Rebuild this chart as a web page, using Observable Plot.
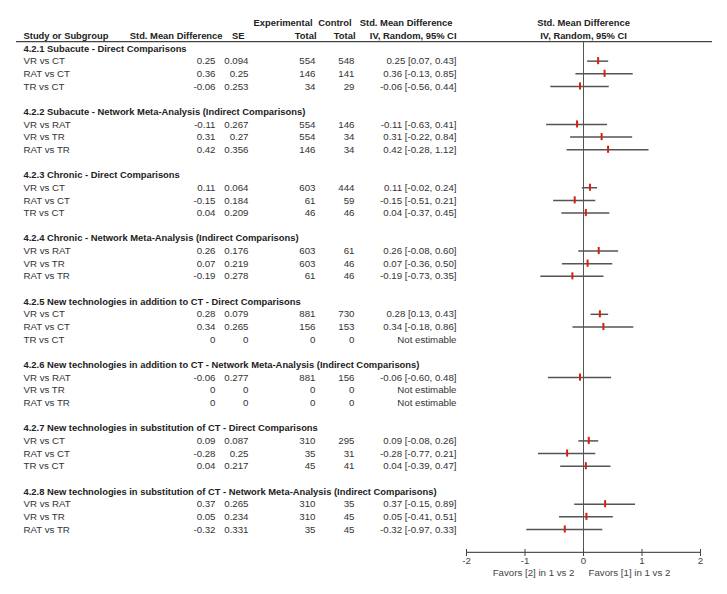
<!DOCTYPE html>
<html><head><meta charset="utf-8">
<script src="https://cdn.jsdelivr.net/npm/d3@7"></script>
<script src="https://cdn.jsdelivr.net/npm/@observablehq/plot@0.6"></script>
<style>body{margin:0;background:#fff}</style>
</head><body><div id="chart"></div>
<script>
const groups = [
  "4.2.1 Subacute - Direct Comparisons",
  "4.2.2 Subacute - Network Meta-Analysis (Indirect Comparisons)",
  "4.2.3 Chronic - Direct Comparisons",
  "4.2.4 Chronic - Network Meta-Analysis (Indirect Comparisons)",
  "4.2.5 New technologies in addition to CT - Direct Comparisons",
  "4.2.6 New technologies in addition to CT - Network Meta-Analysis (Indirect Comparisons)",
  "4.2.7 New technologies in substitution of CT - Direct Comparisons",
  "4.2.8 New technologies in substitution of CT - Network Meta-Analysis (Indirect Comparisons)"
];
const comparisons = [
  "VR vs CT","RAT vs CT","TR vs CT",
  "VR vs RAT","VR vs TR","RAT vs TR",
  "VR vs CT","RAT vs CT","TR vs CT",
  "VR vs RAT","VR vs TR","RAT vs TR",
  "VR vs CT","RAT vs CT","TR vs CT",
  "VR vs RAT","VR vs TR","RAT vs TR",
  "VR vs CT","RAT vs CT","TR vs CT",
  "VR vs RAT","VR vs TR","RAT vs TR"
];
const smd = [0.25,0.36,-0.06, -0.11,0.31,0.42, 0.11,-0.15,0.04, 0.26,0.07,-0.19, 0.28,0.34,0, -0.06,0,0, 0.09,-0.28,0.04, 0.37,0.05,-0.32];
const se = [0.094,0.25,0.253, 0.267,0.27,0.356, 0.064,0.184,0.209, 0.176,0.219,0.278, 0.079,0.265,0, 0.277,0,0, 0.087,0.25,0.217, 0.265,0.234,0.331];
const expTotal = [554,146,34, 554,554,146, 603,61,46, 603,603,61, 881,156,0, 881,0,0, 310,35,45, 310,310,35];
const ctrlTotal = [548,141,29, 146,34,34, 444,59,46, 61,46,46, 730,153,0, 156,0,0, 295,31,41, 35,45,45];
const ciLow = [0.07,-0.13,-0.56, -0.63,-0.22,-0.28, -0.02,-0.51,-0.37, -0.08,-0.36,-0.73, 0.13,-0.18,null, -0.60,null,null, -0.08,-0.77,-0.39, -0.15,-0.41,-0.97];
const ciHigh = [0.43,0.85,0.44, 0.41,0.84,1.12, 0.24,0.21,0.45, 0.60,0.50,0.35, 0.43,0.86,null, 0.48,null,null, 0.26,0.21,0.47, 0.89,0.51,0.33];
const xTicks = [-2,-1,0,1,2];
const favorsLeft = "Favors [2] in 1 vs 2";
const favorsRight = "Favors [1] in 1 vs 2";

// layout rows (row index units)
const rowsPerGroup = 5;
const headRow1 = -2, headRow2 = -1, headLine = -0.55;
const axisRow = 39.8, favorsRow = 41.4;

const groupRows = groups.map((g, i) => ({label: g, row: i * rowsPerGroup}));
const studyRows = comparisons.map((c, k) => {
  const gi = Math.floor(k / 3), j = k % 3;
  const est = se[k] !== 0;
  return {
    label: c, row: gi * rowsPerGroup + 1 + j,
    smd: smd[k], se: se[k], exp: expTotal[k], ctrl: ctrlTotal[k],
    lo: ciLow[k], hi: ciHigh[k], est,
    ci: est ? `${smd[k].toFixed(2)} [${ciLow[k].toFixed(2)}, ${ciHigh[k].toFixed(2)}]` : "Not estimable"
  };
});
const estRows = studyRows.filter(d => d.est);

const txt = "#333", bold = "#222", fs = 9.7, fsb = 9.4;
const T = (data, o) => Plot.text(data, {frameAnchor: "left", fontSize: fs, fill: txt, ...o});
const B = (data, o) => Plot.text(data, {frameAnchor: "left", fontSize: fsb, fill: bold, fontWeight: "bold", ...o});

const chart = Plot.plot({
  width: 727, height: 594,
  marginLeft: 16, marginRight: 15, marginTop: 0, marginBottom: 42,
  style: {fontFamily: "'Liberation Sans', Arial, sans-serif", fontSize: "10px", background: "#fff"},
  x: {domain: [-2, 2], range: [466, 700]},
  y: {domain: [0, 38], range: [48, 529], axis: null},
  marks: [
    // header
    B(["Experimental"], {y: () => headRow1, dx: 296, textAnchor: "end"}),
    B(["Control"], {y: () => headRow1, dx: 335, textAnchor: "end"}),
    B(["Std. Mean Difference"], {y: () => headRow1, dx: 436, textAnchor: "end"}),
    B(["Study or Subgroup"], {y: () => headRow2, dx: 7, textAnchor: "start"}),
    B(["Std. Mean Difference"], {y: () => headRow2, dx: 206, textAnchor: "end"}),
    B(["SE"], {y: () => headRow2, dx: 228, textAnchor: "end"}),
    B(["Total"], {y: () => headRow2, dx: 300, textAnchor: "end"}),
    B(["Total"], {y: () => headRow2, dx: 339, textAnchor: "end"}),
    B(["IV, Random, 95% CI"], {y: () => headRow2, dx: 440, textAnchor: "end"}),
    Plot.text(["Std. Mean Difference"], {x: () => 0, y: () => headRow1, fontSize: fsb, fontWeight: "bold", fill: bold}),
    Plot.text(["IV, Random, 95% CI"], {x: () => 0, y: () => headRow2, fontSize: fsb, fontWeight: "bold", fill: bold}),
    Plot.ruleY([headLine], {stroke: "#444", strokeWidth: 1.2}),
    // groups
    B(groupRows, {y: "row", text: "label", dx: 7, textAnchor: "start"}),
    // study rows
    T(studyRows, {y: "row", text: "label", dx: 7, textAnchor: "start"}),
    T(studyRows, {y: "row", text: d => String(d.smd), dx: 199, textAnchor: "end"}),
    T(studyRows, {y: "row", text: d => String(d.se), dx: 232, textAnchor: "end"}),
    T(studyRows, {y: "row", text: d => String(d.exp), dx: 299, textAnchor: "end"}),
    T(studyRows, {y: "row", text: d => String(d.ctrl), dx: 338, textAnchor: "end"}),
    T(studyRows, {y: "row", text: "ci", dx: 440, textAnchor: "end"}),
    // forest
    Plot.ruleX([0], {y1: headLine, y2: axisRow, stroke: "#555", strokeWidth: 1}),
    Plot.ruleY(estRows, {y: "row", x1: "lo", x2: "hi", stroke: "#555", strokeWidth: 1.5}),
    Plot.ruleX(estRows, {x: "smd", y1: d => d.row - 0.28, y2: d => d.row + 0.28, stroke: "#d42010", strokeWidth: 2}),
    // axis
    Plot.ruleY([axisRow], {x1: xTicks[0], x2: xTicks[xTicks.length - 1], stroke: "#555", strokeWidth: 1.2}),
    Plot.axisX({anchor: "bottom", ticks: xTicks, tickSize: 7, dy: -3, tickPadding: 1, label: null, fontSize: fs, color: "#444", tickFormat: d => String(d)}),
    Plot.text([favorsLeft], {x: () => 0, y: () => favorsRow, dx: -9, textAnchor: "end", fontSize: fs, fill: "#444"}),
    Plot.text([favorsRight], {x: () => 0, y: () => favorsRow, dx: 5, textAnchor: "start", fontSize: fs, fill: "#444"})
  ]
});
document.getElementById("chart").appendChild(chart);
</script>
</body></html>
